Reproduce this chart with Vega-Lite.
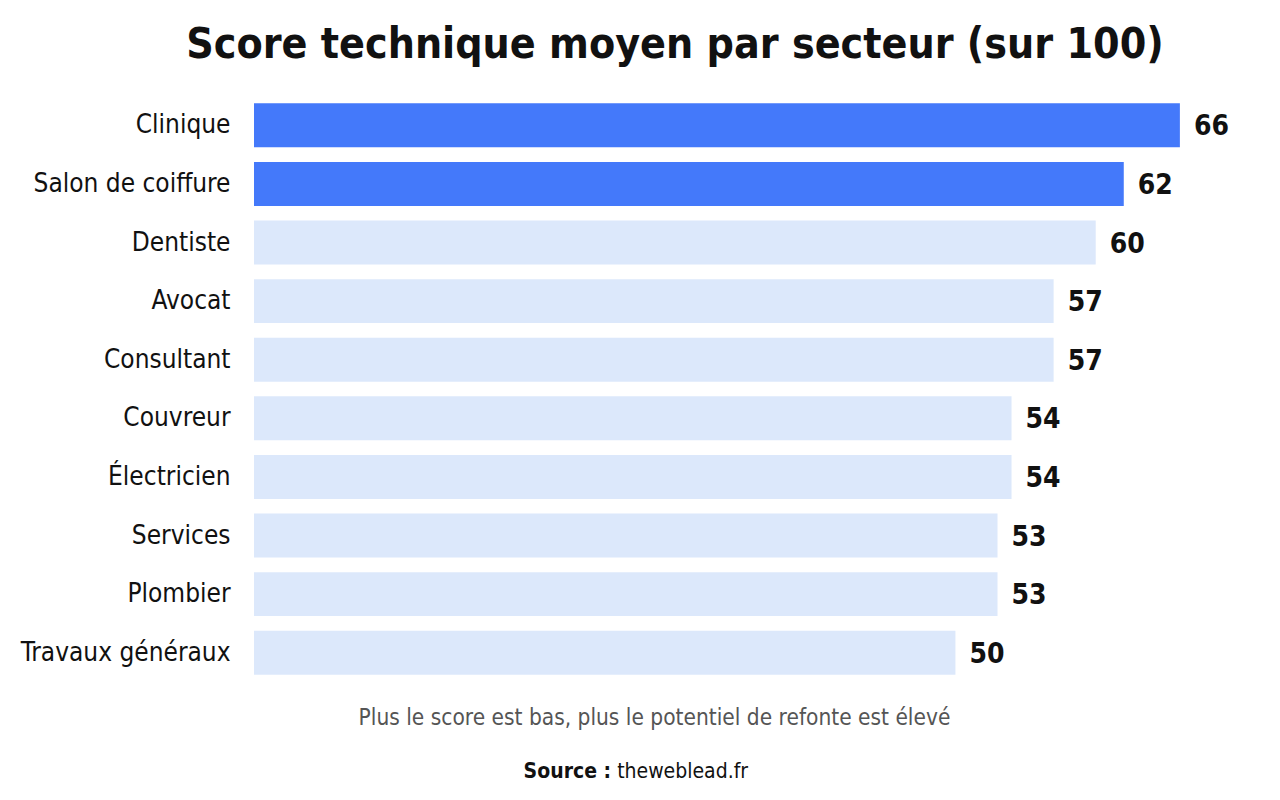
{
  "$schema": "https://vega.github.io/schema/vega-lite/v6.json",
  "width": 982,
  "height": 586,
  "autosize": {"type": "none"},
  "padding": {"left": 254, "top": 96, "right": 44, "bottom": 118},
  "background": "white",
  "config": {"view": {"stroke": null}, "font": "'DejaVu Sans Condensed', Roboto, sans-serif"},
  "title": {
    "text": "Score technique moyen par secteur (sur 100)",
    "font": "'DejaVu Sans Condensed', Roboto, sans-serif",
    "fontSize": 42.5,
    "fontWeight": "bold",
    "color": "#111111",
    "anchor": "middle",
    "dx": -70,
    "offset": 30
  },
  "data": {
    "values": [
      {"secteur": "Clinique", "score": 66, "top": "oui"},
      {"secteur": "Salon de coiffure", "score": 62, "top": "oui"},
      {"secteur": "Dentiste", "score": 60, "top": "non"},
      {"secteur": "Avocat", "score": 57, "top": "non"},
      {"secteur": "Consultant", "score": 57, "top": "non"},
      {"secteur": "Couvreur", "score": 54, "top": "non"},
      {"secteur": "Électricien", "score": 54, "top": "non"},
      {"secteur": "Services", "score": 53, "top": "non"},
      {"secteur": "Plombier", "score": 53, "top": "non"},
      {"secteur": "Travaux généraux", "score": 50, "top": "non"}
    ]
  },
  "encoding": {
    "y": {
      "field": "secteur",
      "type": "nominal",
      "sort": null,
      "scale": {"paddingInner": 0.25, "paddingOuter": 0.125},
      "axis": {
        "title": null,
        "ticks": false,
        "domain": false,
        "labelFontSize": 26,
        "labelColor": "#111111",
        "labelPadding": 24,
        "labelLimit": 0,
        "labelFont": "'DejaVu Sans Condensed', Roboto, sans-serif"
      }
    },
    "x": {
      "field": "score",
      "type": "quantitative",
      "scale": {"domain": [0, 70]},
      "axis": {
        "title": "Plus le score est bas, plus le potentiel de refonte est élevé",
        "labels": false,
        "ticks": false,
        "grid": false,
        "domain": false,
        "titleFont": "'DejaVu Sans Condensed', Roboto, sans-serif",
        "titleFontSize": 22.5,
        "titleFontWeight": "normal",
        "titleColor": "#555555",
        "titlePadding": 24,
        "titleAnchor": "middle",
        "titleX": 400
      }
    }
  },
  "layer": [
    {
      "mark": {"type": "bar"},
      "encoding": {
        "color": {
          "field": "top",
          "type": "nominal",
          "scale": {"domain": ["oui", "non"], "range": ["#4479FA", "#DCE8FB"]},
          "legend": null
        }
      }
    },
    {
      "mark": {"type": "text", "align": "left", "baseline": "middle", "dx": 14, "dy": 2, "fontSize": 28, "fontWeight": "bold", "color": "#111111"},
      "encoding": {"text": {"field": "score", "type": "quantitative"}}
    },
    {
      "transform": [{"filter": "datum.score == 50"}],
      "mark": {"type": "text", "text": "Source :", "align": "right", "baseline": "middle", "dx": -2, "dy": 119, "fontSize": 21, "fontWeight": "bold", "color": "#111111"},
      "encoding": {"x": {"datum": 25.6}}
    },
    {
      "transform": [{"filter": "datum.score == 50"}],
      "mark": {"type": "text", "text": "theweblead.fr", "align": "left", "baseline": "middle", "dx": 4, "dy": 119, "fontSize": 21, "fontWeight": "normal", "color": "#111111"},
      "encoding": {"x": {"datum": 25.6}}
    }
  ]
}
